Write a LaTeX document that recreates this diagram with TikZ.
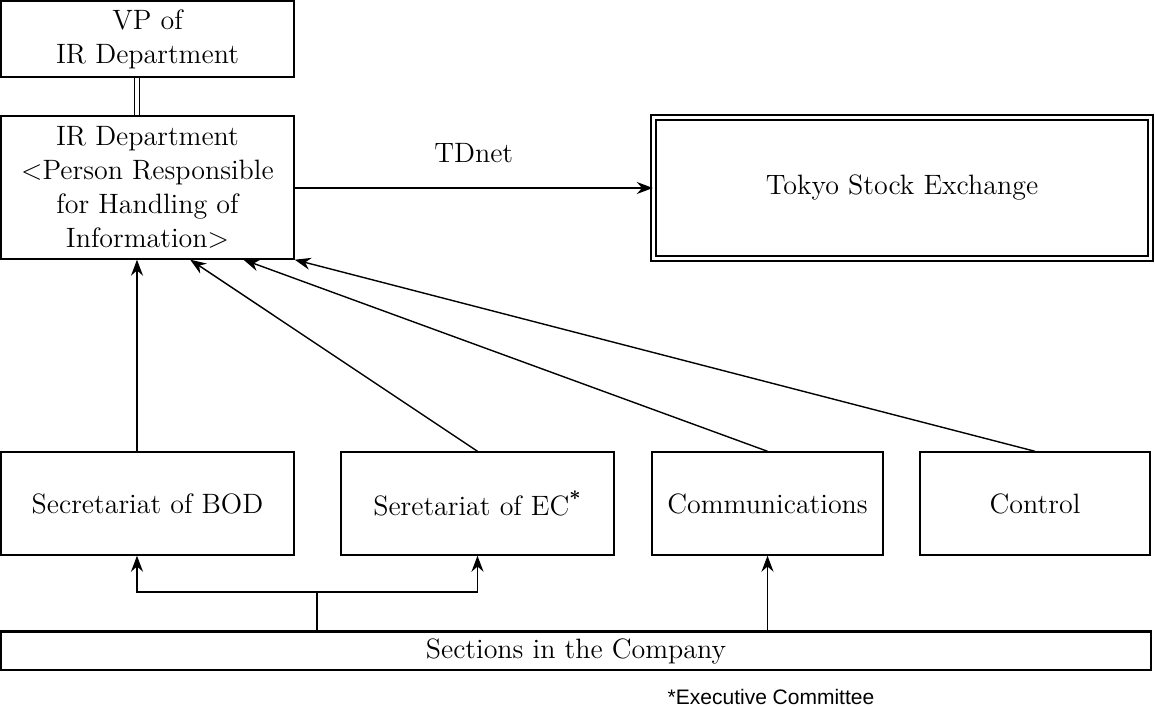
\documentclass[tikz,border=0pt]{standalone}
\usepackage{fontspec}
\newfontfamily\notefont{Liberation Sans}
\usetikzlibrary{arrows.meta,calc}
\begin{document}
\begin{tikzpicture}[x=0.5pt,y=-0.5pt,
    box/.style={draw,line width=0.7pt,align=center,inner sep=0pt,
      font=\fontsize{14}{17}\selectfont},
    link/.style={line width=0.7pt,-{Stealth[length=8pt,width=6pt]}}]
  \useasboundingbox (0,0) rectangle (1155,706);
  % boxes
  \node[box,minimum width=146.5pt,minimum height=38pt] (vp) at (147.5,39) {VP of\\IR Department};
  \node[box,minimum width=146.5pt,minimum height=71.5pt] (ir) at (147.5,187.5)
    {IR Department\\<Person Responsible\\for Handling of\\Information>};
  \node[box,double,double distance=1.8pt,minimum width=248.5pt,minimum height=70.5pt] (tse) at (902,188)
    {Tokyo Stock Exchange};
  \node[box,minimum width=146.5pt,minimum height=51.5pt] (bod) at (147.5,503.5) {Secretariat of BOD};
  \node[box,minimum width=136.5pt,minimum height=51.5pt] (ec) at (477.5,503.5) {Seretariat of EC\textsuperscript{\textbf{*}}};
  \node[box,minimum width=115.5pt,minimum height=51.5pt] (comm) at (767.5,503.5) {Communications};
  \node[box,minimum width=115pt,minimum height=51.5pt] (ctrl) at (1035,503.5) {Control};
  \node[box,minimum width=575pt,minimum height=19pt] (sec) at (576,651) {Sections in the Company};
  \draw[line width=1.3pt] (sec.north west) -- (sec.north east);
  \node[font=\notefont\fontsize{10.5}{12}\selectfont] (note) at (771,697) {*Executive Committee};
  % links
  \draw[line width=0.7pt,double,double distance=1.8pt] ([xshift=-5.25pt]vp.south) -- ([xshift=-5.25pt]ir.north);
  \draw[link] (ir.east |- tse.west) -- (tse.west)
    node[midway,above=12.5pt,inner sep=0pt,font=\fontsize{14}{17}\selectfont] (tdnet) {TDnet};
  \draw[link] ([xshift=-5.25pt]bod.north) -- ([xshift=-5.25pt]bod.north |- ir.south);
  \draw[link] (ec.north) -- ($(ir.south west)!0.645!(ir.south east)$);
  \draw[link] (comm.north) -- ($(ir.south west)!0.826!(ir.south east)$);
  \draw[link] (ctrl.north) -- (ir.south east);
  \coordinate (split) at (317,592);
  \draw[line width=0.7pt] (split |- sec.north) -- (split);
  \draw[link] (split) -| ([xshift=-5.25pt]bod.south);
  \draw[link] (split) -| (ec.south);
  \draw[link] (comm.south |- sec.north) -- (comm.south);
\end{tikzpicture}
\end{document}
